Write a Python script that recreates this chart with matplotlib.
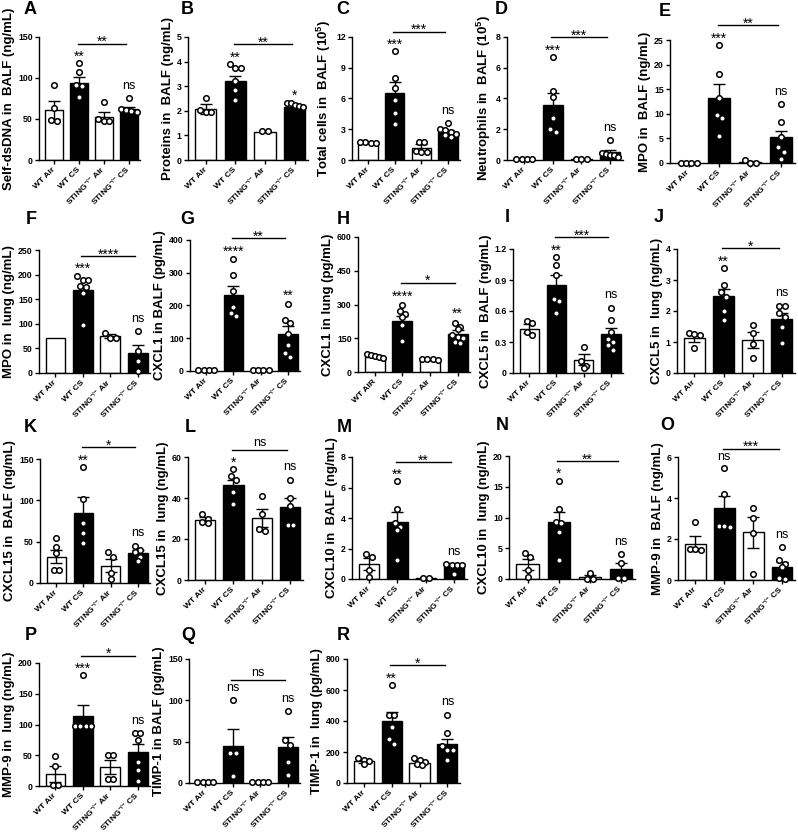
import numpy as np
import matplotlib
matplotlib.use("Agg")
import matplotlib.pyplot as plt

plt.rcParams['font.family'] = ['Liberation Sans', 'DejaVu Sans']
plt.rcParams['mathtext.default'] = 'regular'

# ---------------- data ----------------
groups = ["WT Air", "WT CS", "STING$^{-/{-}}$ Air", "STING$^{-/{-}}$ CS"]
groups_H = ["WT AIR", "WT CS", "STING$^{-/{-}}$ Air", "STING$^{-/{-}}$ CS"]

A_mean = [61, 94, 53, 62]
A_sem = [11, 7, 6, 3]
A_pts = [[91, 64, 47, 49], [118, 107, 91, 90, 77], [71, 50, 47, 47], [75, 62, 61, 60, 59]]
A_sig = ["**", "ns", "**"]

B_mean = [2.07, 3.22, 1.15, 2.17]
B_sem = [0.2, 0.2, 0.03, 0.07]
B_pts = [[2.5, 2.05, 1.97, 1.95], [3.9, 3.75, 3.72, 3.2, 2.85, 2.45], [1.17, 1.19], [2.3, 2.3, 2.25, 2.2, 2.15]]
B_sig = ["**", "*", "**"]

C_mean = [1.7, 6.5, 1.2, 2.7]
C_sem = [0.05, 1.15, 0.35, 0.2]
C_pts = [[1.7, 1.72, 1.75, 1.7], [10.6, 8.0, 7.0, 5.9, 4.6, 3.5], [1.8, 1.75, 0.9, 0.8, 0.75],
         [3.6, 3.0, 2.9, 2.7, 2.5, 2.4, 2.2]]
C_sig = ["***", "ns", "***"]

D_mean = [0.05, 3.58, 0.05, 0.5]
D_sem = [0, 0.77, 0, 0.17]
D_pts = [[0.05, 0.05, 0.05, 0.05], [6.7, 4.5, 4.1, 2.7, 1.8, 2.0], [0.05, 0.05, 0.05],
         [1.3, 0.45, 0.4, 0.35, 0.3, 0.2]]
D_sig = ["***", "ns", "***"]

E_mean = [0.1, 13.3, 0.3, 5.2]
E_sem = [0, 2.8, 0.2, 1.4]
E_pts = [[0.1, 0.1, 0.1, 0.1], [24, 18, 13.3, 9.8, 9.2, 5.4], [0.6, 0.1, 0.1], [11.9, 8.3, 5.2, 3.3, 2.3, 0.8]]
E_sig = ["***", "ns", "**"]

F_mean = [71, 168, 75, 40]
F_sem = [0, 9, 4, 17]
F_pts = [[], [198, 190, 190, 177, 175, 162, 97], [82, 72, 72], [85, 45, 25, 5]]
F_sig = ["***", "ns", "****"]

G_mean = [3, 232, 3, 113]
G_sem = [0, 29, 0, 23]
G_pts = [[3, 3, 3, 3], [341, 294, 245, 196, 177, 168], [3, 3, 3, 3], [204, 157, 147, 114, 80, 55, 43]]
G_sig = ["****", "**", "**"]

H_mean = [68, 225, 55, 168]
H_sem = [0, 25, 0, 18]
H_pts = [[80, 75, 70, 66, 62], [300, 270, 260, 245, 210, 140], [60, 58, 56, 52],
         [220, 200, 190, 165, 155, 150, 135, 130]]
H_sig = ["****", "**", "*"]

I_mean = [0.43, 0.855, 0.13, 0.38]
I_sem = [0.04, 0.095, 0.05, 0.055]
I_pts = [[0.5, 0.48, 0.4, 0.37], [1.12, 1.05, 0.95, 0.72, 0.7, 0.58], [0.25, 0.12, 0.07, 0.05],
         [0.63, 0.51, 0.4, 0.33, 0.3, 0.27, 0.22]]
I_sig = ["**", "ns", "***"]

J_mean = [1.12, 2.48, 1.07, 1.75]
J_sem = [0.13, 0.24, 0.25, 0.2]
J_pts = [[1.3, 1.22, 1.25, 0.8], [3.38, 2.84, 2.6, 2.45, 2.0, 1.7], [1.55, 1.3, 0.95, 0.5],
         [2.17, 2.15, 1.95, 1.8, 1.5, 0.98]]
J_sig = ["**", "ns", "*"]

K_mean = [32, 85, 21, 36]
K_sem = [7.5, 19, 8, 3.5]
K_pts = [[54, 44, 36, 16, 16], [140, 102, 73, 60, 48], [37, 31, 12, 5], [45, 40, 38, 32, 27]]
K_sig = ["**", "ns", "*"]

L_mean = [29.5, 46.5, 30.3, 35.8]
L_sem = [1.2, 2.5, 4.5, 4.3]
L_pts = [[32, 30, 28.5, 28], [54, 50.5, 49, 43, 37], [41, 32, 25, 24], [49, 40, 36, 27, 27]]
L_sig = ["*", "ns", "ns"]

M_mean = [0.96, 3.72, 0.05, 0.85]
M_sem = [0.4, 0.65, 0, 0.12]
M_pts = [[1.65, 1.45, 0.6, 0.15], [6.4, 4.6, 3.65, 3.4, 3.2, 1.26], [0.05, 0.05], [0.97, 0.95, 0.95, 0.93, 0.33]]
M_sig = ["**", "ns", "**"]

N_mean = [2.4, 9.2, 0.3, 1.6]
N_sem = [0.9, 1.7, 0.3, 1.0]
N_pts = [[4.2, 3.6, 1.5, 0.3], [16, 11.4, 9.3, 9.1, 7.7, 3.1], [1.0, 0.05, 0.05], [4.0, 2.6, 0.2, 0.1]]
N_sig = ["*", "ns", "**"]

O_mean = [1.78, 3.5, 2.33, 0.65]
O_sem = [0.37, 0.6, 0.75, 0.22]
O_pts = [[2.85, 1.5, 1.45, 1.5], [5.45, 4.2, 2.65, 2.6, 2.65], [3.5, 3.03, 2.3, 0.3],
         [1.6, 1.0, 0.8, 0.65, 0.1, 0.05]]
O_sig = ["ns", "ns", "***"]

P_mean = [20, 114, 30.5, 56]
P_sem = [13, 17, 11, 12]
P_pts = [[48, 32, 2, 1], [180, 98, 98, 98, 98], [51, 50, 12, 12], [86, 86, 74, 39, 26, 8]]
P_sig = ["***", "ns", "*"]

Q_mean = [1, 45, 1, 43]
Q_sem = [0, 20, 0, 13]
Q_pts = [[1, 1, 1, 1], [101, 36, 36, 9], [1, 1, 1, 1], [87, 52, 46, 25, 10]]
Q_sig = ["ns", "ns", "ns"]

R_mean = [140, 400, 130, 250]
R_sem = [10, 56, 12, 35]
R_pts = [[160, 150, 145, 125], [632, 440, 440, 363, 281, 251], [162, 148, 138, 125, 118],
         [440, 320, 240, 215, 210, 150]]
R_sig = ["**", "ns", "*"]

ylabels = {
    'A': "Self-dsDNA in  BALF (ng/mL)", 'B': "Proteins in  BALF (ng/mL)",
    'C': "Total cells in  BALF (10$^5$)", 'D': "Neutrophils in  BALF (10$^5$)",
    'E': "MPO in  BALF (ng/mL)", 'F': "MPO in  lung (ng/mL)",
    'G': "CXCL1 in BALF (pg/mL)", 'H': "CXCL1 in lung (pg/mL)",
    'I': "CXCL5 in  BALF (ng/mL)", 'J': "CXCL5 in  lung (ng/mL)",
    'K': "CXCL15 in  BALF (ng/mL)", 'L': "CXCL15 in  lung (ng/mL)",
    'M': "CXCL10 in  BALF (ng/mL)", 'N': "CXCL10 in  lung (ng/mL)",
    'O': "MMP-9 in  BALF (ng/mL)", 'P': "MMP-9 in  lung (ng/mL)",
    'Q': "TIMP-1 in BALF (pg/mL)", 'R': "TIMP-1 in  lung (pg/mL)",
}
yticks = {
    'A': [0, 50, 100, 150], 'B': [0, 1, 2, 3, 4, 5], 'C': [0, 3, 6, 9, 12],
    'D': [0, 2, 4, 6, 8], 'E': [0, 5, 10, 15, 20, 25], 'F': [0, 50, 100, 150, 200, 250],
    'G': [0, 100, 200, 300, 400], 'H': [0, 150, 300, 450, 600], 'I': [0, 0.3, 0.6, 0.9, 1.2],
    'J': [0, 1, 2, 3, 4], 'K': [0, 50, 100, 150], 'L': [0, 20, 40, 60],
    'M': [0, 2, 4, 6, 8], 'N': [0, 5, 10, 15, 20], 'O': [0, 2, 4, 6],
    'P': [0, 50, 100, 150, 200], 'Q': [0, 50, 100, 150], 'R': [0, 200, 400, 600, 800],
}

# ---------------- layout (pixel boxes: left, right, top, bottom; letter position) ----------------
W, Hh = 798, 833
boxes = {
    'A': (39, 140, 37, 160, 30, 10), 'B': (188, 308, 37, 160, 187, 10),
    'C': (352, 460, 37, 160, 343, 10), 'D': (507, 623, 37, 160, 501, 10),
    'E': (670, 795, 40, 163, 665, 12),
    'F': (39, 150, 250, 373, 31, 220), 'G': (190, 300, 240, 371, 187, 220),
    'H': (358, 470, 237, 372, 343, 220), 'I': (513, 623, 249, 373, 507, 218),
    'J': (677, 795, 249, 373, 659, 218),
    'K': (40, 150, 459, 583, 30, 428), 'L': (188, 303, 457, 580, 190, 428),
    'M': (352, 467, 457, 579, 344, 428), 'N': (509, 635, 456, 579, 502, 425),
    'O': (678, 795, 457, 580, 667, 425),
    'P': (39, 150, 663, 786, 31, 636), 'Q': (189, 300, 659, 783, 188, 636),
    'R': (347, 460, 659, 783, 343, 636),
}

panels = {
    'A': (A_mean, A_sem, A_pts, A_sig), 'B': (B_mean, B_sem, B_pts, B_sig),
    'C': (C_mean, C_sem, C_pts, C_sig), 'D': (D_mean, D_sem, D_pts, D_sig),
    'E': (E_mean, E_sem, E_pts, E_sig), 'F': (F_mean, F_sem, F_pts, F_sig),
    'G': (G_mean, G_sem, G_pts, G_sig), 'H': (H_mean, H_sem, H_pts, H_sig),
    'I': (I_mean, I_sem, I_pts, I_sig), 'J': (J_mean, J_sem, J_pts, J_sig),
    'K': (K_mean, K_sem, K_pts, K_sig), 'L': (L_mean, L_sem, L_pts, L_sig),
    'M': (M_mean, M_sem, M_pts, M_sig), 'N': (N_mean, N_sem, N_pts, N_sig),
    'O': (O_mean, O_sem, O_pts, O_sig), 'P': (P_mean, P_sem, P_pts, P_sig),
    'Q': (Q_mean, Q_sem, Q_pts, Q_sig), 'R': (R_mean, R_sem, R_pts, R_sig),
}

FILL = ['white', 'black', 'white', 'black']
XLIM = (-0.6, 3.45)
BARW = 0.72


def swarm_offsets(vals, ymax, h_px, unit_px, d=5.4, maxw=8.0):
    vals = np.asarray(vals, dtype=float)
    offs = np.zeros(len(vals))
    order = np.argsort(-vals, kind='stable')
    rows = []
    for i in order:
        y = vals[i] / ymax * h_px
        if rows and abs(rows[-1][0] - y) < d:
            rows[-1][1].append(i)
        else:
            rows.append([y, [i]])
    for _, idx in rows:
        m = len(idx)
        step = d if m < 2 else min(d, 2 * maxw / (m - 1))
        for k, i in enumerate(idx):
            offs[i] = (k - (m - 1) / 2) * step / unit_px
    return offs


fig = plt.figure(figsize=(W / 100, Hh / 100), dpi=100)

for key, (means, sems, pts, sig) in panels.items():
    L, R, T, B, lx, ly = boxes[key]
    ax = fig.add_axes([L / W, 1 - B / Hh, (R - L) / W, (B - T) / Hh])
    yt = yticks[key]
    ymax = yt[-1]
    h_px = B - T
    unit_px = (R - L) / (XLIM[1] - XLIM[0])
    x = np.arange(4)
    ax.bar(x, means, width=BARW, color=FILL, edgecolor='black', linewidth=1.0, zorder=2)
    for i in range(4):
        if sems[i] > 0:
            ax.errorbar(x[i], means[i], yerr=sems[i], fmt='none', ecolor='black',
                        elinewidth=1.0, capsize=4, capthick=1.0, zorder=3)
        if len(pts[i]):
            off = swarm_offsets(pts[i], ymax, h_px, unit_px)
            ax.plot(x[i] + off, pts[i], 'o', ms=4.0, mfc='white', mec='black', mew=1.1,
                    zorder=4, clip_on=False)
    ax.set_xlim(*XLIM)
    ax.set_ylim(0, ymax)
    ax.set_yticks(yt)
    ax.set_yticklabels([f"{t:g}" for t in yt])
    ax.set_xticks(x)
    ax.set_xticklabels(groups_H if key == 'H' else groups, rotation=45, ha='right',
                       va='center', rotation_mode='anchor')
    for lab in ax.get_xticklabels() + ax.get_yticklabels():
        lab.set_fontweight('bold')
    ax.tick_params(axis='both', length=3, width=1.0, labelsize=6.3, pad=1.5)
    ax.tick_params(axis='x', pad=3, labelsize=6.1)
    for s in ['top', 'right']:
        ax.spines[s].set_visible(False)
    for s in ['left', 'bottom']:
        ax.spines[s].set_linewidth(1.0)
    ax.set_ylabel(ylabels[key], fontsize=9.5, fontweight='bold', labelpad=2)
    fig.text(lx / W, 1 - ly / Hh, key, fontsize=13, fontweight='bold', ha='center', va='center')

    # significance annotations
    def top_of(i):
        return max([means[i] + sems[i]] + list(pts[i]))

    y1 = top_of(1) + 0.09 * ymax
    y3 = top_of(3) + 0.10 * ymax
    yb = max(y1, y3) + 0.07 * ymax

    def put(s, xx, yy):
        if s == 'ns':
            ax.annotate(s, (xx, yy), ha='center', va='center', fontsize=9,
                        annotation_clip=False)
        else:
            ax.annotate(s, (xx, yy), xytext=(0, -3.3), textcoords='offset points',
                        ha='center', va='center', fontsize=10, annotation_clip=False)

    put(sig[0], 1, y1)
    put(sig[1], 3, y3)
    ax.plot([0.95, 2.9], [yb, yb], color='black', lw=1.0, clip_on=False)
    put(sig[2], 1.925, yb + 0.05 * ymax)

fig.savefig("out.png", dpi=100)
